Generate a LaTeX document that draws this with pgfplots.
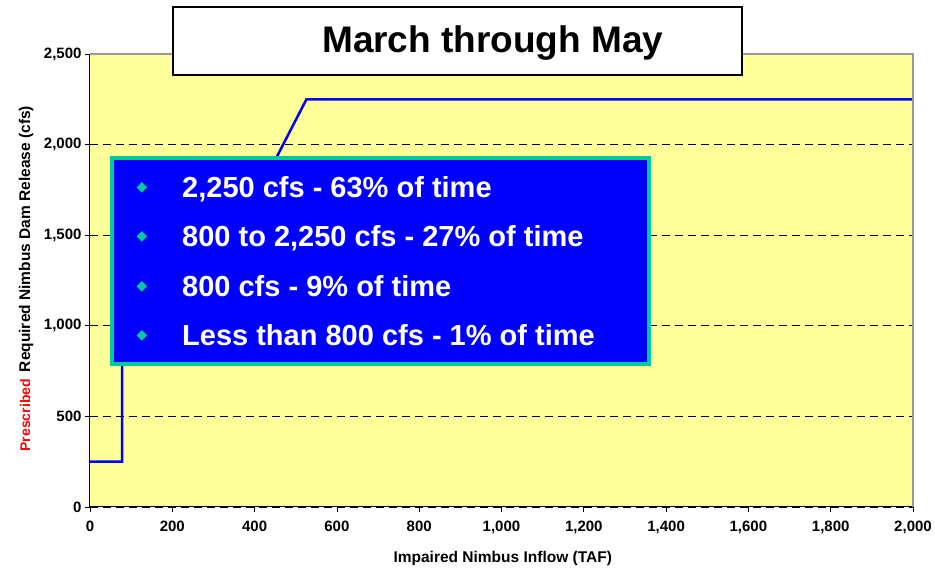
\documentclass[border=0pt]{standalone}
\usepackage{pgfplots}
\pgfplotsset{compat=1.18}
\usepackage{fontspec}
\setmainfont{Liberation Sans}
\newfontfamily\dejavu{DejaVu Sans}
\definecolor{plotyellow}{HTML}{FFFF99}
\definecolor{boxteal}{HTML}{00CC99}
\definecolor{boxblue}{HTML}{0000FF}
\definecolor{linegray}{HTML}{999999}
\definecolor{lineblue}{HTML}{0000FF}
\begin{document}
\begin{tikzpicture}[x=1bp,y=1bp]
\useasboundingbox (-90,-64) rectangle (845,507);
\begin{axis}[
  at={(0,0)}, anchor=south west,
  scale only axis, width=823bp, height=453bp,
  xmin=0, xmax=2000, ymin=0, ymax=2500,
  axis lines=left, axis line style={-, black, line width=1bp},
  xtick={0,200,...,2000}, ytick={0,500,...,2500},
  tick align=outside, major tick length=5bp,
  tick style={black, line width=0.8bp},
  xtick pos=left, ytick pos=left,
  ymajorgrids, grid style={black, line width=0.8bp, dash pattern=on 8bp off 5bp},
  axis background/.style={fill=plotyellow},
  /pgf/number format/1000 sep={,},
  /pgf/number format/assume math mode=true,
  ticklabel style={font=\fontsize{15bp}{16bp}\selectfont\bfseries},
  xticklabel style={yshift=-6bp},
  xlabel={Impaired Nimbus Inflow (TAF)},
  ylabel={\textcolor{red}{\fontsize{14bp}{16bp}\selectfont Prescribed}\hspace{7bp}Required Nimbus Dam Release (cfs)},
  label style={font=\fontsize{15.5bp}{18bp}\selectfont\bfseries},
  xlabel style={at={(axis description cs:0.5015,-0.1236)}, anchor=base},
  ylabel style={at={(axis description cs:-0.0775,0.504)}, anchor=center},
]
\addplot[lineblue, line width=2.5bp, line join=miter] coordinates {
  (0,250) (78,250) (78,800) (197,800) (526,2250) (2000,2250)
};
\end{axis}
\draw[linegray, line width=1.2bp] (0,453) -- (823,453) -- (823,0);
% title box
\draw[black, line width=1.5bp, fill=white] (83,432) rectangle (652,500);
\node[anchor=base west, font=\fontsize{37bp}{40bp}\selectfont\bfseries, inner sep=0] at (232,454) {March through May};
% text box
\draw[boxteal, line width=4bp, fill=boxblue] (22,143) rectangle (559,349);
\foreach \yy/\txt in {309/{2,250 cfs - 63\% of time}, 260/{800 to 2,250 cfs - 27\% of time}, 210/{800 cfs - 9\% of time}, 161/{Less than 800 cfs - 1\% of time}}{
  \node[anchor=base west, inner sep=0, text=white, font=\fontsize{29bp}{32bp}\selectfont\bfseries] at (92,\yy) {\txt};
  \node[anchor=center, inner sep=0, text=boxteal, font=\dejavu\fontsize{14bp}{14bp}\selectfont] at (52,\yy+10) {◆};
}
\end{tikzpicture}
\end{document}
